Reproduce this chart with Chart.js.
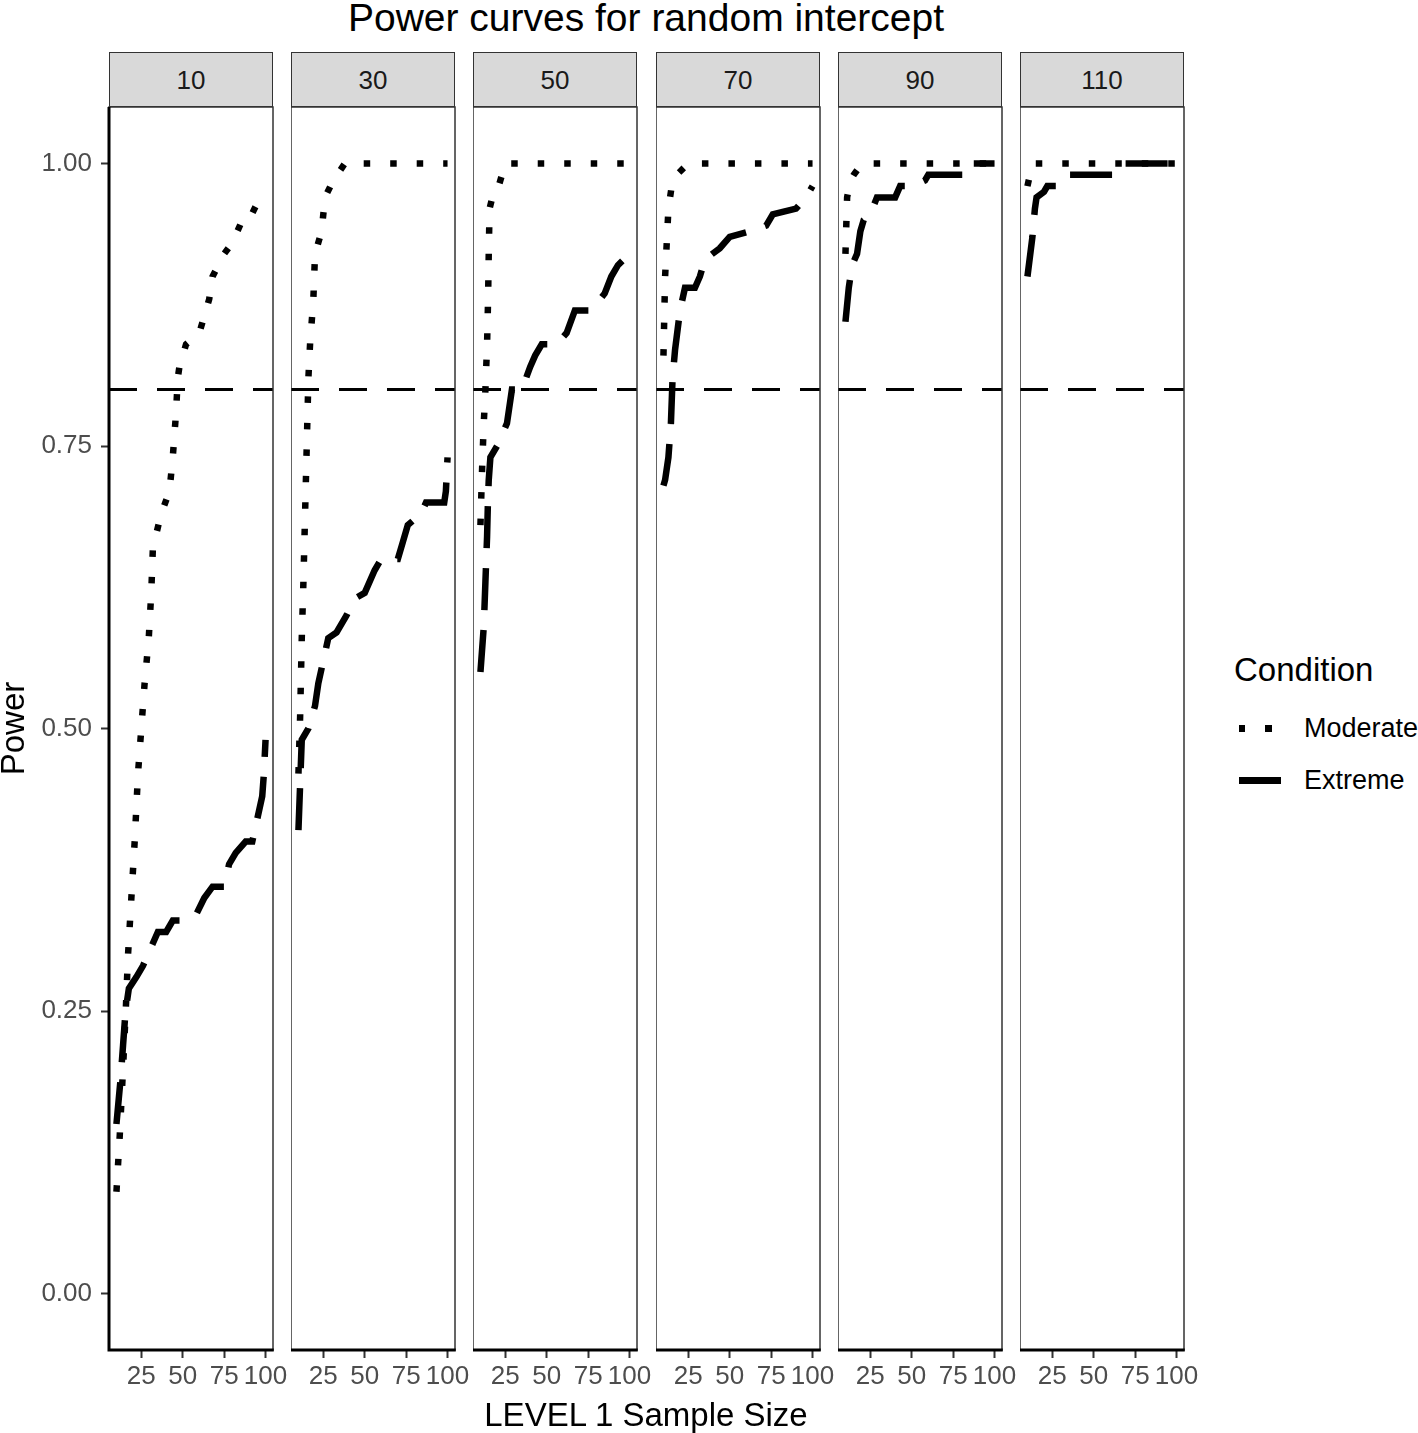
<!DOCTYPE html>
<html>
<head>
<meta charset="utf-8">
<script src="https://cdn.jsdelivr.net/npm/chart.js@4.4.1/dist/chart.umd.min.js"></script>
<style>
body{margin:0;background:#fff;width:1418px;height:1433px;position:relative;overflow:hidden;font-family:"Liberation Sans",Arial,sans-serif;}
.t{position:absolute;white-space:nowrap;color:#000;}
canvas{position:absolute;}
.strip{position:absolute;top:52px;height:55px;width:164px;box-sizing:border-box;background:#d9d9d9;border:1.5px solid #333;}
</style>
</head>
<body>
<script>
// facet labels (level-2 sample size) and axis ticks
const panels = [10, 30, 50, 70, 90, 110];
const xTicks = [25, 50, 75, 100];
const yTicks = [0, 0.25, 0.5, 0.75, 1];
const X_MIN = 5.5, X_MAX = 104.5, Y_MIN = -0.05, Y_MAX = 1.05;
const TARGET = 0.8;

// [level-1 sample size, power]
const mod10 = [[10,.09],[12,.14],[14,.20],[15.6,.25],[17,.30],[19,.35],[21,.40],[23,.46],[25,.50],[27,.54],[29.5,.58],[31,.62],[32,.66],[37,.69],[42,.71],[44,.74],[46,.78],[47,.81],[48,.82],[52,.84],[60,.85],[66,.88],[68,.90],[75,.92],[80,.93],[86,.95],[90,.95],[95,.965],[100,.975]];
const ext10 = [[10,.15],[12.5,.19],[14,.22],[15.5,.25],[17.5,.27],[22,.28],[26,.29],[29,.30],[32,.31],[35,.32],[40,.32],[44,.33],[51,.33],[58,.335],[63,.35],[68,.36],[75,.36],[78,.38],[82,.39],[88,.40],[92,.40],[95,.42],[98,.44],[99,.46],[100,.49]];
const mod30 = [[10,.46],[11,.51],[12,.58],[13,.63],[14,.69],[15,.75],[16,.81],[17,.84],[19,.88],[20,.92],[24,.94],[26,.97],[31,.985],[38,1],[100,1]];
const ext30 = [[10,.41],[11,.45],[12,.49],[16,.50],[20,.52],[22,.54],[25,.56],[28,.58],[33,.585],[39,.60],[44,.615],[50,.62],[56,.64],[60,.65],[70,.65],[73,.665],[76,.68],[84,.69],[87,.70],[98,.70],[99,.71],[100,.74]];
const mod50 = [[10,.68],[11,.73],[12,.77],[13,.80],[14,.84],[14.6,.88],[15,.92],[15.5,.96],[18,.975],[21,.98],[25,1],[100,1]];
const ext50 = [[10,.55],[12,.59],[13,.63],[14,.67],[14.5,.70],[15,.72],[16,.74],[20,.75],[23,.76],[26,.77],[29,.80],[35,.80],[40,.82],[43,.83],[47,.84],[56,.84],[62,.85],[67,.87],[77,.87],[85,.885],[89,.90],[93,.91],[100,.92]];
const mod70 = [[10,.83],[11,.90],[12,.93],[13,.96],[15,.98],[18,.99],[25,1],[100,1]];
const ext70 = [[10,.715],[11,.72],[13,.74],[14.5,.77],[15.5,.81],[17,.835],[20,.87],[23,.89],[29,.89],[32,.90],[35,.915],[44,.925],[50,.935],[62,.94],[72,.945],[76,.955],[90,.96],[96,.97],[100,.98]];
const mod90 = [[10,.92],[11,.97],[13,.985],[15,.99],[20,1],[100,1]];
const ext90 = [[10,.86],[12,.89],[14,.91],[17,.92],[19,.94],[21,.95],[25,.955],[29,.97],[40,.97],[43,.98],[51,.98],[58,.985],[60,.99],[85,.99],[87,1],[100,1]];
const mod110 = [[10,.98],[13,1],[100,1]];
const ext110 = [[10,.90],[13,.935],[14.5,.96],[15.5,.97],[20,.975],[22,.98],[30,.98],[35,.99],[64,.99],[68,1],[100,1]];

const moderate = [mod10, mod30, mod50, mod70, mod90, mod110];
const extreme = [ext10, ext30, ext50, ext70, ext90, ext110];

const FONT = '"Liberation Sans", Arial, sans-serif';
const PANEL_W = 164, PANEL_TOP = 107, PANEL_H = 1243, PAD_T = 30;
const panelLeft = i => Math.round(109 + i * 182.2);

function addText(txt, css) {
  const d = document.createElement('div');
  d.className = 't';
  d.textContent = txt;
  Object.assign(d.style, css);
  document.body.appendChild(d);
  return d;
}

const frame = {
  id: 'frame',
  afterDatasetsDraw(chart) {
    const {ctx, chartArea: a} = chart;
    const first = chart.options.isFirst;
    ctx.save();
    ctx.strokeStyle = '#333';
    ctx.lineWidth = 1.5;
    ctx.strokeRect(a.left, a.top, a.right - a.left, a.bottom - a.top);
    ctx.strokeStyle = '#000';
    ctx.lineWidth = 3;
    ctx.beginPath();
    ctx.moveTo(a.left - (first ? 1.5 : 0.75), a.bottom);
    ctx.lineTo(a.right + 0.75, a.bottom);
    if (first) { ctx.moveTo(a.left, a.top); ctx.lineTo(a.left, a.bottom); }
    ctx.stroke();
    ctx.restore();
  }
};

const toXY = arr => arr.map(([x, y]) => ({x, y}));

panels.forEach((p, i) => {
  const first = i === 0;
  const L = panelLeft(i);
  const cv = document.createElement('canvas');
  const cLeft = first ? 0 : L;
  cv.width = (first ? L : 0) + PANEL_W + 20;
  cv.height = PAD_T + PANEL_H + 50;
  cv.style.left = cLeft + 'px';
  cv.style.top = (PANEL_TOP - PAD_T) + 'px';
  document.body.appendChild(cv);

  const strip = document.createElement('div');
  strip.className = 'strip';
  strip.style.left = L + 'px';
  document.body.appendChild(strip);
  addText(String(p), {left: L + 'px', width: PANEL_W + 'px', textAlign: 'center', top: '67px',
    fontSize: '26px', lineHeight: '26px', color: '#1a1a1a'});

  const yScale = {type: 'linear', display: first, min: Y_MIN, max: Y_MAX};
  if (first) {
    Object.assign(yScale, {
      afterBuildTicks: s => { s.ticks = yTicks.map(v => ({value: v})); },
      afterFit: s => { s.width = L; },
      ticks: {color: '#4d4d4d', font: {family: FONT, size: 26}, padding: 9, callback: v => v.toFixed(2)},
      grid: {drawOnChartArea: false, drawTicks: true, tickLength: 8, tickColor: '#333', tickWidth: 2},
      border: {display: false},
      title: {display: true, text: 'Power', color: '#000', padding: 0,
              font: {family: FONT, size: 33, lineHeight: 0.9}}
    });
  }

  new Chart(cv, {
    type: 'line',
    data: {datasets: [
      {label: 'Moderate', data: toXY(moderate[i]), borderColor: '#000', borderWidth: 6.5,
       borderDash: [6.5, 20], borderCapStyle: 'butt', pointRadius: 0, tension: 0, fill: false},
      {label: 'Extreme', data: toXY(extreme[i]), borderColor: '#000', borderWidth: 6.5,
       borderDash: [42, 20], borderCapStyle: 'butt', pointRadius: 0, tension: 0, fill: false},
      {label: 'target', data: [{x: X_MIN, y: TARGET}, {x: X_MAX, y: TARGET}], borderColor: '#000',
       borderWidth: 3, borderDash: [28, 20], pointRadius: 0, fill: false}
    ]},
    options: {
      isFirst: first,
      responsive: false, animation: false, devicePixelRatio: 1,
      layout: {padding: {left: 0, right: 20, top: PAD_T, bottom: 0}},
      plugins: {legend: {display: false}, tooltip: {enabled: false}},
      scales: {
        x: {type: 'linear', min: X_MIN, max: X_MAX,
            afterBuildTicks: s => { s.ticks = xTicks.map(v => ({value: v})); },
            afterFit: s => { s.height = 50; },
            ticks: {color: '#4d4d4d', font: {family: FONT, size: 26}, padding: 3, maxRotation: 0, autoSkip: false},
            grid: {drawOnChartArea: false, drawTicks: true, tickLength: 8, tickColor: '#333', tickWidth: 2},
            border: {display: false}},
        y: yScale
      }
    },
    plugins: [frame]
  });
});

// titles
addText('Power curves for random intercept', {left: '109px', width: '1074px', textAlign: 'center',
  top: '-2px', fontSize: '39px', lineHeight: '39px'});
addText('LEVEL 1 Sample Size', {left: '109px', width: '1074px', textAlign: 'center',
  top: '1398px', fontSize: '33px', lineHeight: '33px'});

// legend
addText('Condition', {left: '1234px', top: '653px', fontSize: '33px', lineHeight: '33px'});
addText('Moderate', {left: '1304px', top: '715px', fontSize: '27px', lineHeight: '27px'});
addText('Extreme', {left: '1304px', top: '767px', fontSize: '27px', lineHeight: '27px'});
const sw1 = document.createElement('div');
Object.assign(sw1.style, {position: 'absolute', left: '1239px', top: '725px', width: '34px', height: '6.5px',
  background: 'repeating-linear-gradient(to right, #000 0 6.5px, transparent 6.5px 26.5px)'});
document.body.appendChild(sw1);
const sw2 = document.createElement('div');
Object.assign(sw2.style, {position: 'absolute', left: '1239px', top: '777px', width: '42px', height: '6.5px',
  background: '#000'});
document.body.appendChild(sw2);
</script>
</body>
</html>
